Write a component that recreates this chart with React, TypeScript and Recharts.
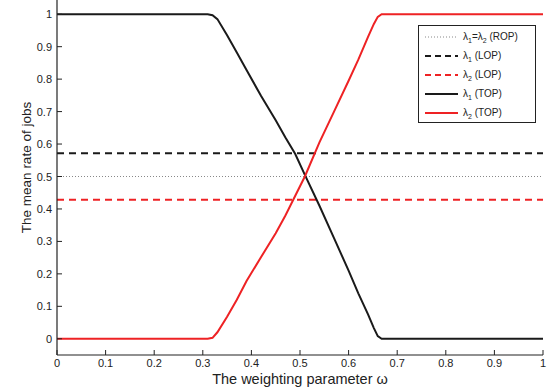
import React from 'react';
import { LineChart, Line, XAxis, YAxis } from 'recharts';

const omega = [0, 0.31, 0.32, 0.33, 0.35, 0.37, 0.39, 0.42, 0.45, 0.47, 0.49, 0.51, 0.54, 0.57, 0.6, 0.62, 0.64, 0.652, 0.66, 0.668, 1];
const lambda1TOP = [1, 1, 0.997, 0.985, 0.935, 0.882, 0.828, 0.748, 0.673, 0.62, 0.57, 0.505, 0.41, 0.31, 0.21, 0.14, 0.075, 0.033, 0.008, 0, 0];
const lambda2TOP = [0, 0, 0.003, 0.02, 0.068, 0.12, 0.178, 0.252, 0.325, 0.38, 0.44, 0.5, 0.605, 0.7, 0.795, 0.86, 0.93, 0.97, 0.992, 1, 1];
const lambdaROP = 0.5;
const lambda1LOP = 4 / 7;
const lambda2LOP = 3 / 7;

const xTicks = [0, 0.1, 0.2, 0.3, 0.4, 0.5, 0.6, 0.7, 0.8, 0.9, 1];
const yTicks = [0, 0.1, 0.2, 0.3, 0.4, 0.5, 0.6, 0.7, 0.8, 0.9, 1];

const xLabel = 'The weighting parameter ω';
const yLabel = 'The mean rate of jobs';

const legendItems = [
  { key: 'rop', parts: ['λ', '1', '=λ', '2', ' (ROP)'], color: '#888888', dash: '1 2', width: 1 },
  { key: 'lop1', parts: ['λ', '1', ' (LOP)'], color: '#1a1a1a', dash: '6 4', width: 2 },
  { key: 'lop2', parts: ['λ', '2', ' (LOP)'], color: '#ee2224', dash: '6 4', width: 2 },
  { key: 'top1', parts: ['λ', '1', ' (TOP)'], color: '#1a1a1a', dash: undefined, width: 2 },
  { key: 'top2', parts: ['λ', '2', ' (TOP)'], color: '#ee2224', dash: undefined, width: 2 },
];

const data = omega.map((w, i) => ({
  w,
  top1: lambda1TOP[i],
  top2: lambda2TOP[i],
  rop: lambdaROP,
  lop1: lambda1LOP,
  lop2: lambda2LOP,
}));

const FONT = '"Liberation Sans", Arial, Helvetica, sans-serif';
const TXT = '#222';

const BottomTick = (props: any) => {
  const { x, y, payload } = props;
  return (
    <g>
      <line x1={x} y1={y} x2={x} y2={y - 5} stroke="#222" strokeWidth={1} />
      <text x={x} y={y + 12} textAnchor="middle" fontSize={11} fontFamily={FONT} fill={TXT}>
        {String(payload.value)}
      </text>
    </g>
  );
};

const TopTick = (props: any) => {
  const { x, y } = props;
  return <line x1={x} y1={y} x2={x} y2={y + 5} stroke="#222" strokeWidth={1} />;
};

const LeftTick = (props: any) => {
  const { x, y, payload } = props;
  return (
    <g>
      <line x1={x} y1={y} x2={x + 5} y2={y} stroke="#222" strokeWidth={1} />
      <text x={x - 5} y={y + 4} textAnchor="end" fontSize={11} fontFamily={FONT} fill={TXT}>
        {String(payload.value)}
      </text>
    </g>
  );
};

const RightTick = (props: any) => {
  const { x, y } = props;
  return <line x1={x} y1={y} x2={x - 5} y2={y} stroke="#222" strokeWidth={1} />;
};

const XLabel = (props: any) => {
  const vb = props.viewBox;
  return (
    <text x={vb.x + vb.width / 2} y={vb.y + 29} textAnchor="middle" fontSize={14.5} fontFamily={FONT} fill={TXT}>
      {xLabel}
    </text>
  );
};

const YLabel = () => {
  const cx = 31;
  const cy = 169.5;
  return (
    <text
      x={cx}
      y={cy}
      transform={`rotate(-90 ${cx} ${cy})`}
      textAnchor="middle"
      fontSize={13.5}
      fontFamily={FONT}
      fill={TXT}
    >
      {yLabel}
    </text>
  );
};

const LegendBox = () => (
  <div
    style={{
      position: 'absolute',
      left: 418,
      top: 27,
      width: 118,
      height: 98,
      border: '1px solid #222',
      background: '#fff',
      boxSizing: 'border-box',
      fontFamily: FONT,
      fontSize: 10,
      color: TXT,
    }}
  >
    {legendItems.map((it, i) => (
      <div
        key={it.key}
        style={{ position: 'absolute', left: 6, top: 3 + i * 19, height: 16, display: 'flex', alignItems: 'center', whiteSpace: 'nowrap' }}
      >
        <svg width={33} height={10} style={{ display: 'block' }}>
          <line x1={0} y1={5} x2={33} y2={5} stroke={it.color} strokeWidth={it.width} strokeDasharray={it.dash} />
        </svg>
        <span style={{ marginLeft: 5 }}>
          {it.parts.map((p, j) =>
            j % 2 === 1 ? (
              <sub key={j} style={{ fontSize: 7, verticalAlign: '-3px' }}>{p}</sub>
            ) : (
              <span key={j}>{p}</span>
            )
          )}
        </span>
      </div>
    ))}
  </div>
);

export default function App() {
  return (
    <div style={{ position: 'absolute', left: 0, top: -2, width: 554, height: 391 }}>
      <LineChart width={554} height={391} data={data} margin={{ top: 0, right: 11, bottom: 0, left: 0 }}>
        <XAxis
          xAxisId="b"
          dataKey="w"
          type="number"
          domain={[0, 1]}
          ticks={xTicks}
          tickLine={false}
          tickSize={0}
          tickMargin={0}
          tick={<BottomTick />}
          axisLine={{ stroke: '#222', strokeWidth: 1.2 }}
          height={34}
          interval={0}
          label={<XLabel />}
        />
        <XAxis
          xAxisId="t"
          dataKey="w"
          type="number"
          orientation="top"
          domain={[0, 1]}
          ticks={xTicks}
          tickLine={false}
          tickSize={0}
          tickMargin={0}
          tick={<TopTick />}
          axisLine={{ stroke: '#222', strokeWidth: 1.2 }}
          height={0}
          interval={0}
        />
        <YAxis
          yAxisId="l"
          type="number"
          domain={[-0.05, 1.05]}
          ticks={yTicks}
          tickLine={false}
          tickSize={0}
          tickMargin={0}
          tick={<LeftTick />}
          axisLine={{ stroke: '#222', strokeWidth: 1.2 }}
          width={57}
          interval={0}
          label={<YLabel />}
        />
        <YAxis
          yAxisId="r"
          orientation="right"
          type="number"
          domain={[-0.05, 1.05]}
          ticks={yTicks}
          tickLine={false}
          tickSize={0}
          tickMargin={0}
          tick={<RightTick />}
          axisLine={{ stroke: '#222', strokeWidth: 1.2 }}
          width={0}
          interval={0}
        />
        <Line xAxisId="b" yAxisId="l" dataKey="rop" stroke="#888888" strokeWidth={1} strokeDasharray="1 2" dot={false} isAnimationActive={false} type="linear" />
        <Line xAxisId="b" yAxisId="l" dataKey="lop1" stroke="#1a1a1a" strokeWidth={2} strokeDasharray="7 5" dot={false} isAnimationActive={false} type="linear" />
        <Line xAxisId="b" yAxisId="l" dataKey="lop2" stroke="#ee2224" strokeWidth={2} strokeDasharray="7 5" dot={false} isAnimationActive={false} type="linear" />
        <Line xAxisId="b" yAxisId="l" dataKey="top1" stroke="#1a1a1a" strokeWidth={2} dot={false} isAnimationActive={false} type="linear" />
        <Line xAxisId="b" yAxisId="l" dataKey="top2" stroke="#ee2224" strokeWidth={2} dot={false} isAnimationActive={false} type="linear" />
      </LineChart>
      <LegendBox />
    </div>
  );
}
